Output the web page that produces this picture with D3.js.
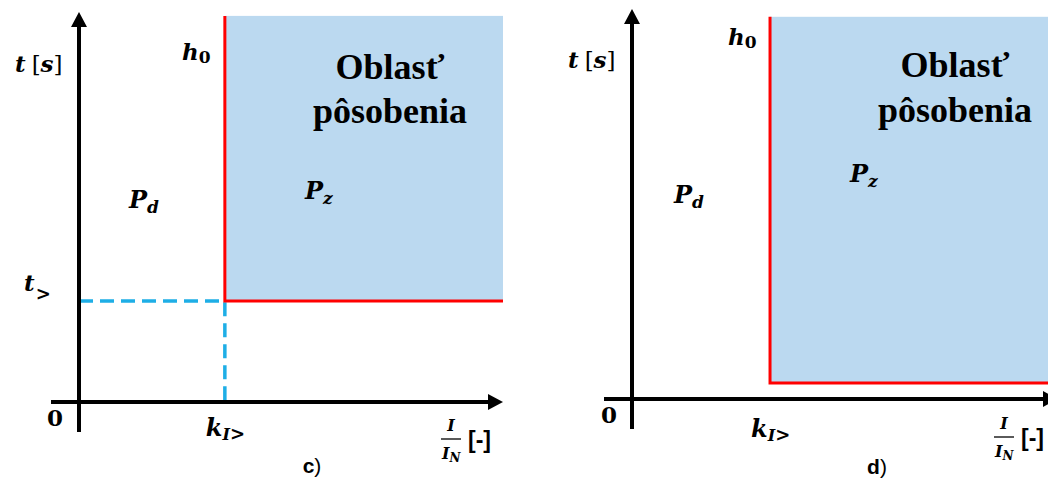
<!DOCTYPE html>
<html>
<head>
<meta charset="utf-8">
<script src="https://cdn.jsdelivr.net/npm/d3@7"></script>
<style>
  html, body { margin: 0; padding: 0; background: #fff; overflow: hidden; }
  svg { display: block; }
  .math { font-family: "DejaVu Serif", serif; font-weight: bold; font-style: italic; fill: #000; }
  .title { font-family: "Liberation Serif", "Times New Roman", serif; font-weight: bold; fill: #000; }
  .cap { font-family: "Liberation Sans", Arial, sans-serif; fill: #000; }
</style>
</head>
<body>
<svg id="canvas" width="1048" height="479"></svg>
<script>
// data: one entry per panel (values in relative units, axes go 0..10)
var panels   = ["c)", "d)"];
var kI       = [3.44, 3.24];   // pickup current k_I>
var tTrip    = [2.59, 0.41];   // delay t>
var regionTop = [9.9, 9.8];    // top of operating area
var xMax     = [10, 10];
var yMax     = [10, 10];
var showGuides = [true, false];

// layout of each panel in pixels
var frame = [
  {x0: 79, x1: 503, y0: 402, y1: 12},
  {x0: 632, x1: 1058, y0: 399, y1: 9}
];
// label positions (pixels)
var lab = [
  {ts: [15, 72], h0: [182, 60], ob: [390, 79, 123], pd: [129, 208], pz: [305, 199], zero: [47, 426], kb: 436, fr: [451, 439], cap: [312, 473]},
  {ts: [568, 68], h0: [728, 45], ob: [955, 77, 122], pd: [674, 203], pz: [850, 182], zero: [601, 423], kb: 437, fr: [1004, 437], cap: [877, 474]}
];

var svg = d3.select("#canvas");

function drawPanel(i) {
  var f = frame[i], L = lab[i];
  var x = d3.scaleLinear().domain([0, xMax[i]]).range([f.x0, f.x1]);
  var y = d3.scaleLinear().domain([0, yMax[i]]).range([f.y0, f.y1]);
  var g = svg.append("g");
  var line = d3.line().x(function(d) { return x(d[0]); }).y(function(d) { return y(d[1]); });

  // operating area
  g.append("rect")
    .attr("x", x(kI[i]))
    .attr("y", y(regionTop[i]))
    .attr("width", x(xMax[i]) - x(kI[i]))
    .attr("height", y(tTrip[i]) - y(regionTop[i]))
    .attr("fill", "#bbd9f0");

  // dashed guides
  if (showGuides[i]) {
    g.append("path")
      .attr("d", line([[0, tTrip[i]], [kI[i], tTrip[i]], [kI[i], 0]]))
      .attr("fill", "none")
      .attr("stroke", "#1eaee6")
      .attr("stroke-width", 3.5)
      .attr("stroke-dasharray", "14,7");
  }

  // characteristic (red)
  g.append("path")
    .attr("d", line([[kI[i], regionTop[i]], [kI[i], tTrip[i]], [xMax[i], tTrip[i]]]))
    .attr("fill", "none")
    .attr("stroke", "#ff0000")
    .attr("stroke-width", 3);

  // axes with arrows
  g.append("line")
    .attr("x1", x(0) - 28).attr("x2", x(xMax[i]) - 12)
    .attr("y1", y(0)).attr("y2", y(0))
    .attr("stroke", "#000").attr("stroke-width", 4);
  g.append("line")
    .attr("x1", x(0)).attr("x2", x(0))
    .attr("y1", y(0) + 30).attr("y2", y(yMax[i]) + 12)
    .attr("stroke", "#000").attr("stroke-width", 4);
  var xt = x(xMax[i]), yt = y(0);
  g.append("path")
    .attr("d", "M" + xt + "," + yt + "L" + (xt - 15) + "," + (yt - 8) + "L" + (xt - 15) + "," + (yt + 8) + "Z")
    .attr("fill", "#000");
  var xa = x(0), ya = y(yMax[i]);
  g.append("path")
    .attr("d", "M" + xa + "," + ya + "L" + (xa - 8) + "," + (ya + 15) + "L" + (xa + 8) + "," + (ya + 15) + "Z")
    .attr("fill", "#000");

  // t [s]
  var ts = g.append("text").attr("class", "math").attr("x", L.ts[0]).attr("y", L.ts[1]).style("font-size", "23px");
  ts.append("tspan").text("t");
  ts.append("tspan").attr("dx", 6).style("font-weight", "normal").style("font-style", "normal").text("[");
  ts.append("tspan").text("s");
  ts.append("tspan").style("font-weight", "normal").style("font-style", "normal").text("]");

  // h0
  var h0 = g.append("text").attr("class", "math").attr("x", L.h0[0]).attr("y", L.h0[1]).style("font-size", "23px");
  h0.append("tspan").text("h");
  h0.append("tspan").attr("dy", 3).style("font-style", "normal").style("font-size", "17px").text("0");

  // Oblasť pôsobenia
  g.append("text").attr("class", "title").attr("x", L.ob[0]).attr("y", L.ob[1])
    .attr("text-anchor", "middle").style("font-size", "36px").text("Oblasť");
  g.append("text").attr("class", "title").attr("x", L.ob[0]).attr("y", L.ob[2])
    .attr("text-anchor", "middle").style("font-size", "36px").text("pôsobenia");

  // P_d, P_z
  [["d", L.pd], ["z", L.pz]].forEach(function(p) {
    var t = g.append("text").attr("class", "math").attr("x", p[1][0]).attr("y", p[1][1]).style("font-size", "24px");
    t.append("tspan").text("P");
    t.append("tspan").attr("dy", 5).style("font-size", "17px").text(p[0]);
  });

  // t> label on y axis
  if (showGuides[i]) {
    var tg = g.append("text").attr("class", "math").attr("x", 24).attr("y", y(tTrip[i]) - 10).style("font-size", "23px");
    tg.append("tspan").text("t");
    tg.append("tspan").attr("dx", 1).attr("dy", 9).style("font-size", "18px").style("font-style", "normal").text(">");
  }

  // 0
  g.append("text").attr("class", "math").attr("x", L.zero[0]).attr("y", L.zero[1])
    .style("font-style", "normal").style("font-size", "23px").text("0");

  // k_I>
  var k = g.append("text").attr("class", "math").attr("x", x(kI[i]) - 19).attr("y", L.kb).style("font-size", "24px");
  k.append("tspan").text("k");
  k.append("tspan").attr("dy", 4).style("font-size", "16px").text("I");
  k.append("tspan").style("font-size", "18px").style("font-style", "normal").text(">");

  // I / I_N [-]
  var fx = L.fr[0], fy = L.fr[1];
  g.append("text").attr("class", "math").attr("x", fx).attr("y", fy - 8)
    .attr("text-anchor", "middle").style("font-size", "16px").text("I");
  g.append("line").attr("x1", fx - 10).attr("x2", fx + 10).attr("y1", fy).attr("y2", fy)
    .attr("stroke", "#000").attr("stroke-width", 1.3);
  var iN = g.append("text").attr("class", "math").attr("x", fx - 9).attr("y", fy + 20).style("font-size", "16px");
  iN.append("tspan").text("I");
  iN.append("tspan").attr("dy", 3).style("font-size", "12px").text("N");
  g.append("text").attr("class", "cap").attr("x", fx + 17).attr("y", fy + 9)
    .style("font-size", "23px").style("font-weight", "bold").text("[-]");

  // caption
  var c = g.append("text").attr("class", "cap").attr("x", L.cap[0]).attr("y", L.cap[1])
    .attr("text-anchor", "middle").style("font-size", "21px");
  c.append("tspan").style("font-weight", "bold").text(panels[i].charAt(0));
  c.append("tspan").text(")");
}

panels.forEach(function(p, i) { drawPanel(i); });
</script>
</body>
</html>
